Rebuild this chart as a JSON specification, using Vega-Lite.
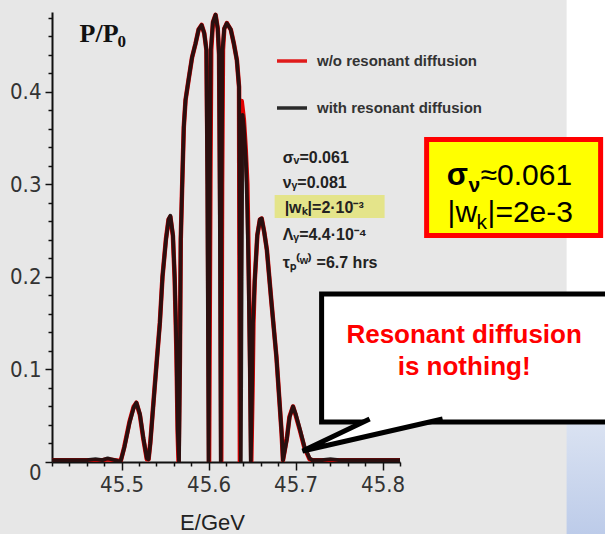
{
  "$schema": "https://vega.github.io/schema/vega-lite/v6.json",
  "width": 348,
  "height": 450,
  "autosize": {"type": "none"},
  "padding": {"left": 52, "top": 12, "right": 205, "bottom": 72},
  "background": "#e7e7e7",
  "config": {
    "view": {"stroke": null},
    "axis": {
      "domainColor": "#111111",
      "domainWidth": 2,
      "tickColor": "#111111",
      "tickWidth": 1.5,
      "grid": false,
      "labelFont": "DejaVu Sans Condensed",
      "labelFontSize": 22,
      "labelColor": "#333333"
    }
  },
  "datasets": {
    "with": [
      {"E": 45.42, "P": 0.002}, {"E": 45.43, "P": 0.002}, {"E": 45.44, "P": 0.002}, {"E": 45.45, "P": 0.002},
      {"E": 45.46, "P": 0.002}, {"E": 45.47, "P": 0.003}, {"E": 45.478, "P": 0.002}, {"E": 45.484, "P": 0.004},
      {"E": 45.488, "P": 0.003}, {"E": 45.492, "P": 0.002}, {"E": 45.496, "P": 0.001}, {"E": 45.499, "P": 0.001},
      {"E": 45.503, "P": 0.015}, {"E": 45.509, "P": 0.042}, {"E": 45.514, "P": 0.059}, {"E": 45.517, "P": 0.064},
      {"E": 45.521, "P": 0.052}, {"E": 45.525, "P": 0.026}, {"E": 45.529, "P": 0.004}, {"E": 45.531, "P": 0.003},
      {"E": 45.533, "P": 0.02}, {"E": 45.538, "P": 0.08}, {"E": 45.544, "P": 0.15}, {"E": 45.547, "P": 0.2},
      {"E": 45.551, "P": 0.24}, {"E": 45.554, "P": 0.262}, {"E": 45.556, "P": 0.266}, {"E": 45.559, "P": 0.245},
      {"E": 45.561, "P": 0.2}, {"E": 45.563, "P": 0.125}, {"E": 45.5645, "P": 0.035}, {"E": 45.566, "P": 0.0},
      {"E": 45.567, "P": 0.1}, {"E": 45.568, "P": 0.24}, {"E": 45.5695, "P": 0.294}, {"E": 45.5715, "P": 0.362},
      {"E": 45.5735, "P": 0.391}, {"E": 45.5775, "P": 0.416}, {"E": 45.581, "P": 0.437}, {"E": 45.585, "P": 0.452},
      {"E": 45.5885, "P": 0.467}, {"E": 45.592, "P": 0.472}, {"E": 45.595, "P": 0.463}, {"E": 45.5975, "P": 0.445},
      {"E": 45.5985, "P": 0.3}, {"E": 45.6, "P": 0.0}, {"E": 45.6015, "P": 0.3}, {"E": 45.6025, "P": 0.445},
      {"E": 45.605, "P": 0.475}, {"E": 45.608, "P": 0.483}, {"E": 45.6105, "P": 0.468}, {"E": 45.612, "P": 0.44},
      {"E": 45.613, "P": 0.25}, {"E": 45.614, "P": 0.0}, {"E": 45.615, "P": 0.3}, {"E": 45.616, "P": 0.445},
      {"E": 45.618, "P": 0.468}, {"E": 45.621, "P": 0.474}, {"E": 45.6255, "P": 0.467}, {"E": 45.629, "P": 0.452},
      {"E": 45.6325, "P": 0.434}, {"E": 45.635, "P": 0.405}, {"E": 45.636, "P": 0.2}, {"E": 45.637, "P": 0.0},
      {"E": 45.638, "P": 0.2}, {"E": 45.639, "P": 0.375}, {"E": 45.6405, "P": 0.362}, {"E": 45.643, "P": 0.323},
      {"E": 45.6445, "P": 0.272}, {"E": 45.646, "P": 0.2}, {"E": 45.6475, "P": 0.1}, {"E": 45.6485, "P": 0.0},
      {"E": 45.65, "P": 0.08}, {"E": 45.651, "P": 0.15}, {"E": 45.653, "P": 0.195}, {"E": 45.656, "P": 0.245},
      {"E": 45.659, "P": 0.262}, {"E": 45.661, "P": 0.263}, {"E": 45.664, "P": 0.248}, {"E": 45.667, "P": 0.229},
      {"E": 45.672, "P": 0.175}, {"E": 45.678, "P": 0.113}, {"E": 45.684, "P": 0.031}, {"E": 45.6855, "P": 0.002},
      {"E": 45.69, "P": 0.025}, {"E": 45.693, "P": 0.048}, {"E": 45.697, "P": 0.06}, {"E": 45.7, "P": 0.052},
      {"E": 45.705, "P": 0.035}, {"E": 45.71, "P": 0.017}, {"E": 45.716, "P": 0.004}, {"E": 45.719, "P": 0.002},
      {"E": 45.73, "P": 0.002}, {"E": 45.74, "P": 0.003}, {"E": 45.75, "P": 0.002}, {"E": 45.76, "P": 0.002},
      {"E": 45.775, "P": 0.002}, {"E": 45.79, "P": 0.002}, {"E": 45.805, "P": 0.002}, {"E": 45.82, "P": 0.002}
    ],
    "without": [
      {"E": 45.42, "P": 0.002}, {"E": 45.44, "P": 0.002}, {"E": 45.46, "P": 0.002}, {"E": 45.478, "P": 0.002},
      {"E": 45.484, "P": 0.003}, {"E": 45.492, "P": 0.002}, {"E": 45.499, "P": 0.001},
      {"E": 45.503, "P": 0.016}, {"E": 45.509, "P": 0.043}, {"E": 45.514, "P": 0.06}, {"E": 45.517, "P": 0.064},
      {"E": 45.521, "P": 0.051}, {"E": 45.525, "P": 0.025}, {"E": 45.529, "P": 0.003}, {"E": 45.531, "P": 0.003},
      {"E": 45.533, "P": 0.021}, {"E": 45.538, "P": 0.081}, {"E": 45.544, "P": 0.151}, {"E": 45.547, "P": 0.2},
      {"E": 45.551, "P": 0.241}, {"E": 45.554, "P": 0.262}, {"E": 45.556, "P": 0.265}, {"E": 45.559, "P": 0.244},
      {"E": 45.561, "P": 0.198}, {"E": 45.563, "P": 0.12}, {"E": 45.5645, "P": 0.03}, {"E": 45.5655, "P": 0.0},
      {"E": 45.567, "P": 0.11}, {"E": 45.568, "P": 0.24}, {"E": 45.5695, "P": 0.294}, {"E": 45.5715, "P": 0.362},
      {"E": 45.5735, "P": 0.391}, {"E": 45.5775, "P": 0.416}, {"E": 45.581, "P": 0.437}, {"E": 45.585, "P": 0.452},
      {"E": 45.5885, "P": 0.467}, {"E": 45.592, "P": 0.472}, {"E": 45.595, "P": 0.463}, {"E": 45.5975, "P": 0.445},
      {"E": 45.599, "P": 0.3}, {"E": 45.6005, "P": 0.0}, {"E": 45.602, "P": 0.3}, {"E": 45.603, "P": 0.445},
      {"E": 45.605, "P": 0.475}, {"E": 45.608, "P": 0.483}, {"E": 45.6105, "P": 0.468}, {"E": 45.612, "P": 0.44},
      {"E": 45.6135, "P": 0.25}, {"E": 45.6145, "P": 0.0}, {"E": 45.6155, "P": 0.3}, {"E": 45.6165, "P": 0.445},
      {"E": 45.618, "P": 0.468}, {"E": 45.621, "P": 0.474}, {"E": 45.6255, "P": 0.467}, {"E": 45.629, "P": 0.452},
      {"E": 45.6325, "P": 0.434}, {"E": 45.635, "P": 0.405}, {"E": 45.6355, "P": 0.2}, {"E": 45.636, "P": 0.0},
      {"E": 45.637, "P": 0.2}, {"E": 45.638, "P": 0.39}, {"E": 45.6405, "P": 0.37}, {"E": 45.6425, "P": 0.34},
      {"E": 45.6445, "P": 0.3}, {"E": 45.646, "P": 0.22}, {"E": 45.6475, "P": 0.12}, {"E": 45.649, "P": 0.0},
      {"E": 45.6505, "P": 0.08}, {"E": 45.6515, "P": 0.15}, {"E": 45.653, "P": 0.195}, {"E": 45.656, "P": 0.245},
      {"E": 45.659, "P": 0.262}, {"E": 45.661, "P": 0.263}, {"E": 45.664, "P": 0.248}, {"E": 45.667, "P": 0.229},
      {"E": 45.672, "P": 0.175}, {"E": 45.678, "P": 0.113}, {"E": 45.684, "P": 0.03}, {"E": 45.6855, "P": 0.002},
      {"E": 45.69, "P": 0.026}, {"E": 45.693, "P": 0.049}, {"E": 45.697, "P": 0.06}, {"E": 45.7, "P": 0.051},
      {"E": 45.705, "P": 0.034}, {"E": 45.71, "P": 0.016}, {"E": 45.716, "P": 0.003}, {"E": 45.719, "P": 0.002},
      {"E": 45.74, "P": 0.002}, {"E": 45.76, "P": 0.002}, {"E": 45.79, "P": 0.002}, {"E": 45.82, "P": 0.002}
    ],
    "tail": [
      {"E": 45.7851, "P": 0.0464, "o": 1},
      {"E": 45.708, "P": 0.0119, "o": 2},
      {"E": 45.869, "P": 0.0464, "o": 3}
    ]
  },
  "data": {"values": [{}]},
  "layer": [
    {
      "data": {"name": "without"},
      "mark": {"type": "line", "strokeWidth": 4.5, "strokeJoin": "round", "clip": true},
      "encoding": {
        "x": {
          "field": "E", "type": "quantitative",
          "scale": {"domain": [45.42, 45.82], "nice": false, "zero": false},
          "axis": {
            "title": "E/GeV",
            "titleFont": "Liberation Sans",
            "titleFontSize": 22,
            "titleFontWeight": "normal",
            "titleColor": "#222222",
            "titleX": 160,
            "titleY": 67,
            "titleBaseline": "alphabetic",
            "tickCount": 200,
            "values": [45.42, 45.44, 45.46, 45.48, 45.5, 45.52, 45.54, 45.56, 45.58, 45.6, 45.62, 45.64, 45.66, 45.68, 45.7, 45.72, 45.74, 45.76, 45.78, 45.8, 45.82],
            "labelExpr": "abs(datum.value*10 - round(datum.value*10)) < 0.001 ? format(datum.value, '.1f') : ''",
            "labelOverlap": false,
            "labelFlush": false,
            "tickSize": 8,
            "tickDash": {"condition": {"test": "abs(datum.value*10 - round(datum.value*10)) < 0.001", "value": [9, 0]}, "value": [4, 9]},
            "labelPadding": 4
          }
        },
        "y": {
          "field": "P", "type": "quantitative",
          "scale": {"domain": [0, 0.486], "nice": false, "zero": false},
          "axis": {
            "title": null,
            "tickCount": 200,
            "values": [0, 0.02, 0.04, 0.06, 0.08, 0.1, 0.12, 0.14, 0.16, 0.18, 0.2, 0.22, 0.24, 0.26, 0.28, 0.3, 0.32, 0.34, 0.36, 0.38, 0.4, 0.42, 0.44, 0.46, 0.48],
            "labelExpr": "datum.value == 0 ? '0' : (abs(datum.value*10 - round(datum.value*10)) < 0.001 ? format(datum.value, '.1f') : '')",
            "labelOverlap": false,
            "labelFlush": false,
            "tickSize": 7,
            "tickDash": {"condition": {"test": "abs(datum.value*10 - round(datum.value*10)) < 0.001", "value": [9, 0]}, "value": [4, 9]},
            "labelBaseline": {"condition": {"test": "datum.value == 0", "value": "top"}, "value": "middle"},
            "labelPadding": 4
          }
        },
        "color": {
          "datum": "w/o resonant diffusion", "type": "nominal",
          "scale": {"domain": ["w/o resonant diffusion", "with resonant diffusion"], "range": ["#e00000", "#111111"]},
          "legend": {
            "title": null,
            "orient": "none",
            "legendX": 223,
            "legendY": 32,
            "symbolType": "stroke",
            "symbolSize": 900,
            "symbolStrokeWidth": 3.5,
            "labelFont": "Liberation Sans",
            "labelFontWeight": "bold",
            "labelFontSize": 15,
            "labelColor": "#333333",
            "labelOffset": 8,
            "labelLimit": 0,
            "rowPadding": 22,
            "padding": 0
          }
        }
      }
    },
    {
      "data": {"name": "with"},
      "mark": {"type": "line", "strokeWidth": 3.8, "strokeJoin": "round", "opacity": 0.88, "clip": true},
      "encoding": {
        "x": {"field": "E", "type": "quantitative"},
        "y": {"field": "P", "type": "quantitative"},
        "color": {"datum": "with resonant diffusion", "type": "nominal"}
      }
    },
    {
      "mark": {"type": "rect", "fill": "#e4e48a"},
      "encoding": {
        "x": {"datum": 45.6759, "type": "quantitative"},
        "x2": {"datum": 45.8023},
        "y": {"datum": 0.2883, "type": "quantitative"},
        "y2": {"datum": 0.2635}
      }
    },
    {
      "mark": {"type": "text", "align": "left", "baseline": "alphabetic", "font": "Liberation Serif", "fontWeight": "bold", "fontSize": 26, "color": "#111111", "text": "P/P"},
      "encoding": {
        "x": {"datum": 45.4517, "type": "quantitative"},
        "y": {"datum": 0.4536, "type": "quantitative"}
      }
    },
    {
      "mark": {"type": "text", "align": "left", "baseline": "alphabetic", "font": "Liberation Serif", "fontWeight": "bold", "fontSize": 17, "color": "#111111", "text": "0"},
      "encoding": {
        "x": {"datum": 45.4954, "type": "quantitative"},
        "y": {"datum": 0.4482, "type": "quantitative"}
      }
    },
    {
      "mark": {"type": "text", "align": "left", "baseline": "alphabetic", "font": "Liberation Sans", "fontWeight": "bold", "fontSize": 16, "color": "#222222", "text": "σᵥ=0.061"},
      "encoding": {
        "x": {"datum": 45.6851, "type": "quantitative"},
        "y": {"datum": 0.3229, "type": "quantitative"}
      }
    },
    {
      "mark": {"type": "text", "align": "left", "baseline": "alphabetic", "font": "Liberation Sans", "fontWeight": "bold", "fontSize": 16, "color": "#222222", "text": "νᵧ=0.081"},
      "encoding": {
        "x": {"datum": 45.6851, "type": "quantitative"},
        "y": {"datum": 0.2959, "type": "quantitative"}
      }
    },
    {
      "mark": {"type": "text", "align": "left", "baseline": "alphabetic", "font": "Liberation Sans", "fontWeight": "bold", "fontSize": 16, "color": "#222222", "text": "|wₖ|=2·10⁻³"},
      "encoding": {
        "x": {"datum": 45.6874, "type": "quantitative"},
        "y": {"datum": 0.2689, "type": "quantitative"}
      }
    },
    {
      "mark": {"type": "text", "align": "left", "baseline": "alphabetic", "font": "Liberation Sans", "fontWeight": "bold", "fontSize": 16, "color": "#222222", "text": "Λᵧ=4.4·10⁻⁴"},
      "encoding": {
        "x": {"datum": 45.6851, "type": "quantitative"},
        "y": {"datum": 0.2397, "type": "quantitative"}
      }
    },
    {
      "mark": {"type": "text", "align": "left", "baseline": "alphabetic", "font": "Liberation Sans", "fontWeight": "bold", "fontSize": 16, "color": "#222222", "text": "τₚ⁽ʷ⁾ =6.7 hrs"},
      "encoding": {
        "x": {"datum": 45.6851, "type": "quantitative"},
        "y": {"datum": 0.2095, "type": "quantitative"}
      }
    },
    {
      "mark": {"type": "rect", "fill": "#ffffff"},
      "encoding": {
        "x": {"datum": 46.0115, "type": "quantitative"},
        "x2": {"datum": 46.09},
        "y": {"datum": 0.52, "type": "quantitative"},
        "y2": {"datum": 0.1}
      }
    },
    {
      "mark": {"type": "rect", "fill": {"gradient": "linear", "x1": 0, "y1": 0, "x2": 0, "y2": 1, "stops": [{"offset": 0, "color": "#dbe3f2"}, {"offset": 1, "color": "#bccbe9"}]}},
      "encoding": {
        "x": {"datum": 46.0115, "type": "quantitative"},
        "x2": {"datum": 46.09},
        "y": {"datum": 0.0454, "type": "quantitative"},
        "y2": {"datum": -0.08}
      }
    },
    {
      "mark": {"type": "rect", "fill": "#ffff00", "stroke": "#ff0000", "strokeWidth": 5},
      "encoding": {
        "x": {"datum": 45.8506, "type": "quantitative"},
        "x2": {"datum": 46.0506},
        "y": {"datum": 0.3483, "type": "quantitative"},
        "y2": {"datum": 0.2446}
      }
    },
    {
      "mark": {"type": "text", "align": "left", "baseline": "alphabetic", "font": "Liberation Sans", "fontWeight": "bold", "fontSize": 31, "color": "#000000", "text": "σ"},
      "encoding": {
        "x": {"datum": 45.8736, "type": "quantitative"},
        "y": {"datum": 0.2991, "type": "quantitative"}
      }
    },
    {
      "mark": {"type": "text", "align": "left", "baseline": "alphabetic", "font": "Liberation Sans", "fontWeight": "bold", "fontSize": 21, "color": "#000000", "text": "ν"},
      "encoding": {
        "x": {"datum": 45.8988, "type": "quantitative"},
        "y": {"datum": 0.2916, "type": "quantitative"}
      }
    },
    {
      "mark": {"type": "text", "align": "left", "baseline": "alphabetic", "font": "Liberation Sans", "fontSize": 30, "color": "#000000", "text": "≈0.061"},
      "encoding": {
        "x": {"datum": 45.9126, "type": "quantitative"},
        "y": {"datum": 0.2991, "type": "quantitative"}
      }
    },
    {
      "mark": {"type": "text", "align": "left", "baseline": "alphabetic", "font": "Liberation Sans", "fontSize": 30, "color": "#000000", "text": "|w"},
      "encoding": {
        "x": {"datum": 45.8747, "type": "quantitative"},
        "y": {"datum": 0.2592, "type": "quantitative"}
      }
    },
    {
      "mark": {"type": "text", "align": "left", "baseline": "alphabetic", "font": "Liberation Sans", "fontSize": 21, "color": "#000000", "text": "k"},
      "encoding": {
        "x": {"datum": 45.9080, "type": "quantitative"},
        "y": {"datum": 0.2516, "type": "quantitative"}
      }
    },
    {
      "mark": {"type": "text", "align": "left", "baseline": "alphabetic", "font": "Liberation Sans", "fontSize": 30, "color": "#000000", "text": "|=2e-3"},
      "encoding": {
        "x": {"datum": 45.9207, "type": "quantitative"},
        "y": {"datum": 0.2592, "type": "quantitative"}
      }
    },
    {
      "mark": {"type": "rect", "fill": "#ffffff", "stroke": "#000000", "strokeWidth": 5},
      "encoding": {
        "x": {"datum": 45.7299, "type": "quantitative"},
        "x2": {"datum": 46.09},
        "y": {"datum": 0.1814, "type": "quantitative"},
        "y2": {"datum": 0.0432}
      }
    },
    {
      "data": {"name": "tail"},
      "mark": {"type": "line", "fill": "#ffffff", "stroke": "#000000", "strokeWidth": 5, "strokeJoin": "miter"},
      "encoding": {
        "x": {"field": "E", "type": "quantitative"},
        "y": {"field": "P", "type": "quantitative"},
        "order": {"field": "o"}
      }
    },
    {
      "mark": {"type": "text", "align": "center", "baseline": "alphabetic", "font": "Liberation Sans", "fontWeight": "bold", "fontSize": 26, "color": "#ff0000", "text": "Resonant diffusion"},
      "encoding": {
        "x": {"datum": 45.8937, "type": "quantitative"},
        "y": {"datum": 0.1285, "type": "quantitative"}
      }
    },
    {
      "mark": {"type": "text", "align": "center", "baseline": "alphabetic", "font": "Liberation Sans", "fontWeight": "bold", "fontSize": 26, "color": "#ff0000", "text": "is nothing!"},
      "encoding": {
        "x": {"datum": 45.8937, "type": "quantitative"},
        "y": {"datum": 0.0940, "type": "quantitative"}
      }
    }
  ]
}
